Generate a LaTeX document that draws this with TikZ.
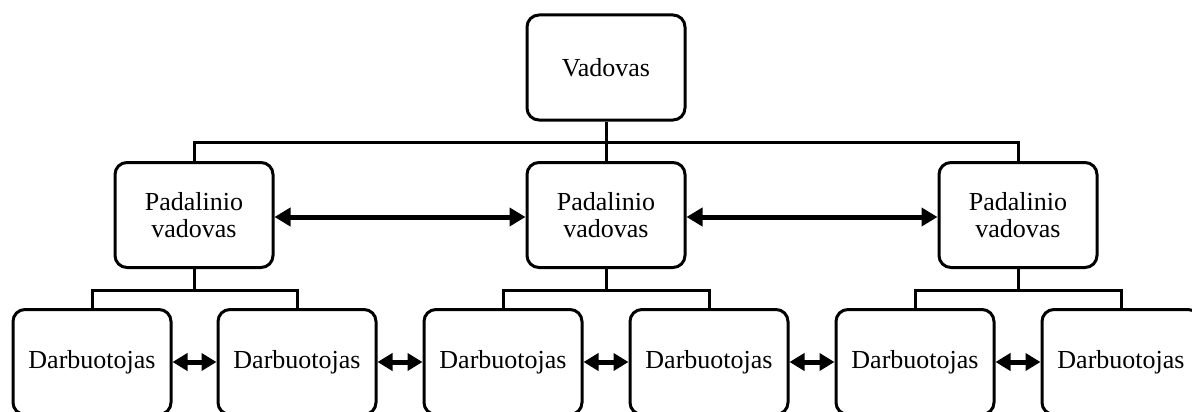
\documentclass[tikz,border=0pt]{standalone}
\usepackage{fontspec}
\setmainfont{Liberation Serif}
\usetikzlibrary{arrows.meta}
\begin{document}
\begin{tikzpicture}[x=1pt,y=-1pt,
  unit/.style={draw, line width=3pt, rounded corners=12pt,
    minimum width=158pt, minimum height=105pt, inner sep=0pt,
    align=center, font=\fontsize{26}{27}\selectfont},
  link/.style={line width=3pt},
  bigarrow/.style={line width=5pt,
    {Triangle[length=16pt,width=18pt]}-{Triangle[length=16pt,width=18pt]}},
  smallarrow/.style={line width=5pt,
    {Triangle[length=15pt,width=17pt]}-{Triangle[length=15pt,width=17pt]}}]
\clip (0,0) rectangle (1192,412);

% head of the organisation
\node[unit] (top) at (606,67.5) {Vadovas};

% department heads
\node[unit] (m1) at (194,215) {Padalinio\\vadovas};
\node[unit] (m2) at (606,215) {Padalinio\\vadovas};
\node[unit] (m3) at (1018,215) {Padalinio\\vadovas};

% employees
\node[unit] (d1) at (92,362)   {Darbuotojas};
\node[unit] (d2) at (297,362)  {Darbuotojas};
\node[unit] (d3) at (503,362)  {Darbuotojas};
\node[unit] (d4) at (709,362)  {Darbuotojas};
\node[unit] (d5) at (915,362)  {Darbuotojas};
\node[unit] (d6) at (1121,362) {Darbuotojas};

% tree connectors
\coordinate (j0) at (606,142);
\coordinate (j1) at (194,290);
\coordinate (j2) at (606,290);
\coordinate (j3) at (1018,290);
\draw[link] (top.south) -- (j0);
\draw[link] (m1.north) |- (j0) -| (m3.north);
\draw[link] (j0) -- (m2.north);
\draw[link] (m1.south) -- (j1);
\draw[link] (d1.north) |- (j1) -| (d2.north);
\draw[link] (m2.south) -- (j2);
\draw[link] (d3.north) |- (j2) -| (d4.north);
\draw[link] (m3.south) -- (j3);
\draw[link] (d5.north) |- (j3) -| (d6.north);

% cooperation arrows
\draw[bigarrow] ([yshift=-2pt]m1.east) -- ([yshift=-2pt]m2.west);
\draw[bigarrow] ([yshift=-2pt]m2.east) -- ([yshift=-2pt]m3.west);
\draw[smallarrow] (d1.east) -- (d2.west);
\draw[smallarrow] (d2.east) -- (d3.west);
\draw[smallarrow] (d3.east) -- (d4.west);
\draw[smallarrow] (d4.east) -- (d5.west);
\draw[smallarrow] (d5.east) -- (d6.west);
\end{tikzpicture}
\end{document}
